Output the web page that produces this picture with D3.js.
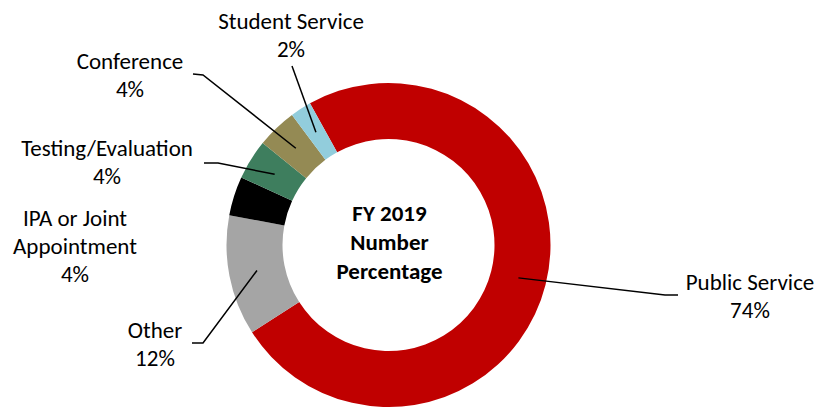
<!DOCTYPE html>
<html>
<head>
<meta charset="utf-8">
<script src="https://cdn.jsdelivr.net/npm/d3@7"></script>
<style>
  body { margin: 0; background: #fff; }
  text { font-family: Carlito, Calibri, Lato, sans-serif; fill: #000; }
</style>
</head>
<body>
<div id="chart"></div>
<script>
var width = 819,
    height = 407;

// data
var categories = ["Public Service", "Other", "IPA or Joint Appointment", "Testing/Evaluation", "Conference", "Student Service"];
var values = [74.0, 12.0, 3.9, 4.0, 4.0, 2.1];
var colors = ["#C00000", "#A5A5A5", "#000000", "#3E7E5E", "#948A54", "#92CDDC"];
var centerTitle = ["FY 2019", "Number", "Percentage"];

// label layout (name lines, centre x, centre y of first line, leader elbow/end)
var labelLines = [["Public Service"], ["Other"], ["IPA or Joint", "Appointment"], ["Testing/Evaluation"], ["Conference"], ["Student Service"]];
var labelX = [750, 155, 75, 107, 130, 291];
var labelY = [282, 330, 218, 148, 61, 21];
var leaders = [
  [[665, 295], [678, 295]],
  [[203, 343], [192, 343]],
  null,
  [[218, 163], [204, 163]],
  [[203, 75], [193, 74]],
  [[292, 66]]
];

var cx = 388.5, cy = 245, outerR = 162, innerR = 106;
var lineH = 28;

var svg = d3.select("#chart").append("svg")
    .attr("width", width)
    .attr("height", height);

var g = svg.append("g").attr("transform", "translate(" + cx + "," + cy + ")");

var startAngle = -29 * Math.PI / 180;
var pie = d3.pie().sort(null).value(function (d) { return d; })
    .startAngle(startAngle).endAngle(startAngle + 2 * Math.PI);

var arc = d3.arc().innerRadius(innerR).outerRadius(outerR);

var arcs = pie(values);

g.selectAll("path.slice")
    .data(arcs)
    .enter().append("path")
    .attr("class", "slice")
    .attr("d", arc)
    .attr("fill", function (d, i) { return colors[i]; });

// leader lines
arcs.forEach(function (d, i) {
  if (!leaders[i]) return;
  var c = arc.centroid(d);
  var pts = [[c[0] + cx, c[1] + cy]].concat(leaders[i]);
  svg.append("path")
      .attr("d", d3.line()(pts))
      .attr("fill", "none")
      .attr("stroke", "#000")
      .attr("stroke-width", 1.5);
});

// labels
arcs.forEach(function (d, i) {
  var lines = labelLines[i].concat([Math.round(values[i]) + "%"]);
  var t = svg.append("text")
      .attr("text-anchor", "middle")
      .style("font-size", "23px");
  lines.forEach(function (s, j) {
    t.append("tspan")
        .attr("x", labelX[i])
        .attr("y", labelY[i] + j * lineH)
        .attr("dy", "0.35em")
        .text(s);
  });
});

// centre title
var ct = svg.append("text")
    .attr("text-anchor", "middle")
    .style("font-size", "23px")
    .style("font-weight", "bold");
centerTitle.forEach(function (s, j) {
  ct.append("tspan")
      .attr("x", cx + 1)
      .attr("y", 213 + j * 29)
      .attr("dy", "0.35em")
      .text(s);
});
</script>
</body>
</html>
